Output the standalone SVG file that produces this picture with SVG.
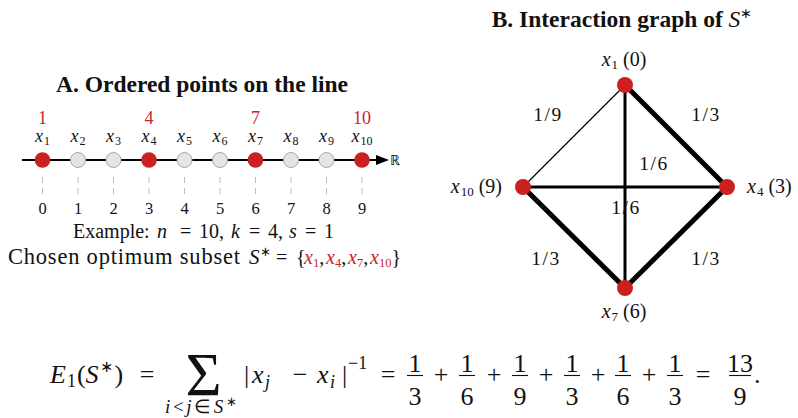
<svg xmlns="http://www.w3.org/2000/svg" width="798" height="418" viewBox="0 0 798 418">
<style>
.t{font-family:"Liberation Serif","Times New Roman",serif;fill:#111}
.title{font-family:"Liberation Serif","Times New Roman",serif;font-weight:bold;font-size:23.5px;fill:#111}
.i{font-style:italic}
.red{fill:#c8242b}
.lbl{font-size:18px}
.num{font-size:16.5px}
.sub{font-size:12px}
.sel{fill:#cc1f1f}
.gray{fill:#e4e4e4;stroke:#a8a8a8;stroke-width:1}
.tick{stroke:#bdbdbd;stroke-width:1;stroke-dasharray:6 5}
.e{stroke:#000;fill:none;stroke-linecap:round}
.w1{stroke-width:1.3}
.w2{stroke-width:3}
.w3{stroke-width:5}
.bar{stroke:#111;stroke-width:1.1}
</style>
<rect width="798" height="418" fill="#fff"/>

<!-- Panel A -->
<text class="title" x="202" y="92" text-anchor="middle">A. Ordered points on the line</text>
<g id="axis">
<line x1="22" y1="160" x2="380" y2="160" stroke="#000" stroke-width="2"/>
<polygon points="376,155 389,160 376,165" fill="#000"/>
<text class="t" x="390" y="165" font-size="14">ℝ</text>
</g>
<g id="ticks">
<line class="tick" x1="42.5" y1="177" x2="42.5" y2="199"/>
<line class="tick" x1="78" y1="177" x2="78" y2="199"/>
<line class="tick" x1="113.5" y1="177" x2="113.5" y2="199"/>
<line class="tick" x1="149" y1="177" x2="149" y2="199"/>
<line class="tick" x1="184.5" y1="177" x2="184.5" y2="199"/>
<line class="tick" x1="220" y1="177" x2="220" y2="199"/>
<line class="tick" x1="255.5" y1="177" x2="255.5" y2="199"/>
<line class="tick" x1="291" y1="177" x2="291" y2="199"/>
<line class="tick" x1="326.5" y1="177" x2="326.5" y2="199"/>
<line class="tick" x1="362" y1="177" x2="362" y2="199"/>
</g>
<g id="p1"><circle class="sel" cx="42.5" cy="160" r="7.8"/><text class="t lbl" x="42.5" y="142" text-anchor="middle"><tspan class="i">x</tspan><tspan class="sub" dx="1" dy="3">1</tspan></text><text class="t red" x="42.5" y="124" font-size="18" text-anchor="middle">1</text><text class="t num" x="42.5" y="214" text-anchor="middle">0</text></g>
<g id="p2"><circle class="gray" cx="78" cy="160" r="7.5"/><text class="t lbl" x="78" y="142" text-anchor="middle"><tspan class="i">x</tspan><tspan class="sub" dx="1" dy="3">2</tspan></text><text class="t num" x="78" y="214" text-anchor="middle">1</text></g>
<g id="p3"><circle class="gray" cx="113.5" cy="160" r="7.5"/><text class="t lbl" x="113.5" y="142" text-anchor="middle"><tspan class="i">x</tspan><tspan class="sub" dx="1" dy="3">3</tspan></text><text class="t num" x="113.5" y="214" text-anchor="middle">2</text></g>
<g id="p4"><circle class="sel" cx="149" cy="160" r="7.8"/><text class="t lbl" x="149" y="142" text-anchor="middle"><tspan class="i">x</tspan><tspan class="sub" dx="1" dy="3">4</tspan></text><text class="t red" x="149" y="124" font-size="18" text-anchor="middle">4</text><text class="t num" x="149" y="214" text-anchor="middle">3</text></g>
<g id="p5"><circle class="gray" cx="184.5" cy="160" r="7.5"/><text class="t lbl" x="184.5" y="142" text-anchor="middle"><tspan class="i">x</tspan><tspan class="sub" dx="1" dy="3">5</tspan></text><text class="t num" x="184.5" y="214" text-anchor="middle">4</text></g>
<g id="p6"><circle class="gray" cx="220" cy="160" r="7.5"/><text class="t lbl" x="220" y="142" text-anchor="middle"><tspan class="i">x</tspan><tspan class="sub" dx="1" dy="3">6</tspan></text><text class="t num" x="220" y="214" text-anchor="middle">5</text></g>
<g id="p7"><circle class="sel" cx="255.5" cy="160" r="7.8"/><text class="t lbl" x="255.5" y="142" text-anchor="middle"><tspan class="i">x</tspan><tspan class="sub" dx="1" dy="3">7</tspan></text><text class="t red" x="255.5" y="124" font-size="18" text-anchor="middle">7</text><text class="t num" x="255.5" y="214" text-anchor="middle">6</text></g>
<g id="p8"><circle class="gray" cx="291" cy="160" r="7.5"/><text class="t lbl" x="291" y="142" text-anchor="middle"><tspan class="i">x</tspan><tspan class="sub" dx="1" dy="3">8</tspan></text><text class="t num" x="291" y="214" text-anchor="middle">7</text></g>
<g id="p9"><circle class="gray" cx="326.5" cy="160" r="7.5"/><text class="t lbl" x="326.5" y="142" text-anchor="middle"><tspan class="i">x</tspan><tspan class="sub" dx="1" dy="3">9</tspan></text><text class="t num" x="326.5" y="214" text-anchor="middle">8</text></g>
<g id="p10"><circle class="sel" cx="362" cy="160" r="7.8"/><text class="t lbl" x="362" y="142" text-anchor="middle"><tspan class="i">x</tspan><tspan class="sub" dx="1" dy="3">10</tspan></text><text class="t red" x="362" y="124" font-size="18" text-anchor="middle">10</text><text class="t num" x="362" y="214" text-anchor="middle">9</text></g>

<text class="t" y="238" font-size="20"><tspan x="73">Example:</tspan><tspan x="157" class="i">n</tspan><tspan x="180">=</tspan><tspan x="199">10,</tspan><tspan x="231" class="i">k</tspan><tspan x="249">=</tspan><tspan x="268">4,</tspan><tspan x="289" class="i">s</tspan><tspan x="305">=</tspan><tspan x="324">1</tspan></text>
<text class="t" x="8" y="264" font-size="22.5" textLength="232" lengthAdjust="spacing">Chosen optimum subset</text>
<text class="t" y="264" font-size="20"><tspan x="249" class="i" font-size="21">S</tspan><tspan font-size="13" dy="-8">∗</tspan><tspan x="276" dy="8">=</tspan><tspan x="296">{</tspan><tspan x="304" class="i red">x</tspan><tspan class="red" font-size="12.5" dy="3">1</tspan><tspan dy="-3">,</tspan><tspan x="326" class="i red">x</tspan><tspan class="red" font-size="12.5" dy="3">4</tspan><tspan dy="-3">,</tspan><tspan x="348" class="i red">x</tspan><tspan class="red" font-size="12.5" dy="3">7</tspan><tspan dy="-3">,</tspan><tspan x="370" class="i red">x</tspan><tspan class="red" font-size="12.5" dy="3">10</tspan><tspan dy="-3">}</tspan></text>

<!-- Panel B -->
<text class="title" x="622" y="27" text-anchor="middle">B. Interaction graph of <tspan font-weight="normal" font-style="italic">S</tspan><tspan font-weight="normal" font-size="14" dy="-9">∗</tspan></text>
<g id="edges">
<line class="e w1" x1="625" y1="85" x2="523" y2="187"/>
<line class="e w2" x1="625" y1="85" x2="625" y2="288"/>
<line class="e w2" x1="523" y1="187" x2="727" y2="187"/>
<line class="e w3" x1="625" y1="85" x2="727" y2="187"/>
<line class="e w3" x1="523" y1="187" x2="625" y2="288"/>
<line class="e w3" x1="727" y1="187" x2="625" y2="288"/>
</g>
<g id="edge-labels" class="t" font-size="19.5" text-anchor="middle" letter-spacing="1.5">
<text x="548" y="121">1/9</text>
<text x="706" y="121">1/3</text>
<text x="654" y="170">1/6</text>
<text x="626" y="214">1/6</text>
<text x="546" y="265">1/3</text>
<text x="706" y="265">1/3</text>
</g>
<g id="n1"><circle class="sel" cx="625" cy="85" r="8"/><text class="t" x="624" y="66" font-size="20" text-anchor="middle"><tspan class="i">x</tspan><tspan font-size="13" dx="1" dy="3">1</tspan><tspan dx="5" dy="-3">(0)</tspan></text></g>
<g id="n4"><circle class="sel" cx="727" cy="187" r="8"/><text class="t" x="747" y="193" font-size="20"><tspan class="i">x</tspan><tspan font-size="13" dx="1" dy="3">4</tspan><tspan dx="5" dy="-3">(3)</tspan></text></g>
<g id="n10"><circle class="sel" cx="523" cy="187" r="8"/><text class="t" x="502" y="193" font-size="20" text-anchor="end"><tspan class="i">x</tspan><tspan font-size="13" dx="1" dy="3">10</tspan><tspan dx="5" dy="-3">(9)</tspan></text></g>
<g id="n7"><circle class="sel" cx="625" cy="288" r="8"/><text class="t" x="624" y="318" font-size="20" text-anchor="middle"><tspan class="i">x</tspan><tspan font-size="13" dx="1" dy="3">7</tspan><tspan dx="5" dy="-3">(6)</tspan></text></g>

<!-- Formula -->
<g id="formula" class="t" font-size="26">
<text x="50" y="383"><tspan class="i">E</tspan><tspan font-size="18" dx="1" dy="4">1</tspan><tspan dx="1" dy="-4">(</tspan><tspan class="i">S</tspan><tspan font-size="16" dx="1" dy="-11">∗</tspan><tspan dx="2" dy="11">)</tspan></text>
<text x="147" y="383" text-anchor="middle">=</text>
<text x="203.5" y="395" font-size="62" text-anchor="middle">Σ</text>
<text x="165" y="413" font-size="19" textLength="72" lengthAdjust="spacing"><tspan class="i">i</tspan>&lt;<tspan class="i">j</tspan>∈<tspan class="i">S</tspan><tspan font-size="13" dy="-7">∗</tspan></text>
<text x="244" y="383">|</text>
<text x="252" y="383" class="i">x</text>
<text x="265" y="388" class="i" font-size="18">j</text>
<text x="300" y="383" text-anchor="middle">−</text>
<text x="317" y="383" class="i">x</text>
<text x="330" y="388" class="i" font-size="18">i</text>
<text x="342" y="383">|</text>
<text x="348" y="369" font-size="18">−1</text>
<text x="388" y="383" text-anchor="middle">=</text>
<text x="415" y="372" text-anchor="middle">1</text><line class="bar" x1="407" y1="375.5" x2="423" y2="375.5"/><text x="415" y="405" text-anchor="middle">3</text>
<text x="441" y="383" text-anchor="middle">+</text>
<text x="467" y="372" text-anchor="middle">1</text><line class="bar" x1="459" y1="375.5" x2="475" y2="375.5"/><text x="467" y="405" text-anchor="middle">6</text>
<text x="494" y="383" text-anchor="middle">+</text>
<text x="520" y="372" text-anchor="middle">1</text><line class="bar" x1="512" y1="375.5" x2="528" y2="375.5"/><text x="520" y="405" text-anchor="middle">9</text>
<text x="546" y="383" text-anchor="middle">+</text>
<text x="572" y="372" text-anchor="middle">1</text><line class="bar" x1="564" y1="375.5" x2="580" y2="375.5"/><text x="572" y="405" text-anchor="middle">3</text>
<text x="598" y="383" text-anchor="middle">+</text>
<text x="623" y="372" text-anchor="middle">1</text><line class="bar" x1="615" y1="375.5" x2="631" y2="375.5"/><text x="623" y="405" text-anchor="middle">6</text>
<text x="649" y="383" text-anchor="middle">+</text>
<text x="675" y="372" text-anchor="middle">1</text><line class="bar" x1="667" y1="375.5" x2="683" y2="375.5"/><text x="675" y="405" text-anchor="middle">3</text>
<text x="703" y="383" text-anchor="middle">=</text>
<text x="740" y="372" text-anchor="middle">13</text><line class="bar" x1="729" y1="375.5" x2="751" y2="375.5"/><text x="740" y="405" text-anchor="middle">9</text>
<text x="754" y="383">.</text>
</g>
</svg>
